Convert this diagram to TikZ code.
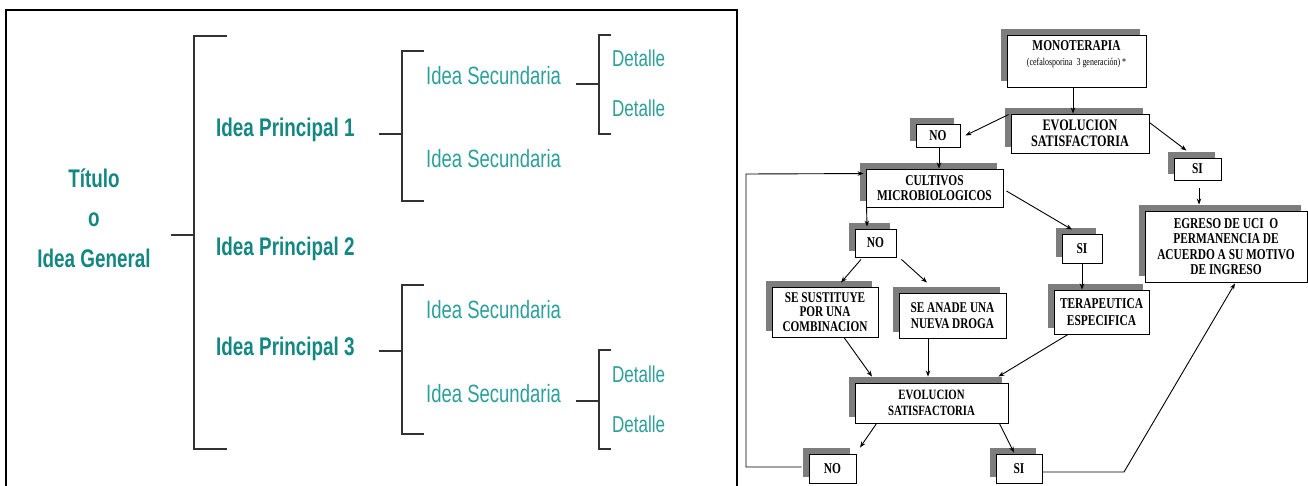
\documentclass[tikz,border=0pt]{standalone}
\usepackage{fontspec}
\usetikzlibrary{shadows,calc,arrows.meta}
\newfontfamily\lsans[FakeStretch=0.74]{Liberation Sans}
\newfontfamily\rserif[FakeStretch=0.76]{Liberation Serif}
\definecolor{tealB}{RGB}{20,135,130}
\definecolor{tealR}{RGB}{45,160,155}
\definecolor{shgray}{RGB}{125,125,125}
\definecolor{brk}{RGB}{50,50,50}
\begin{document}
\begin{tikzpicture}[x=1pt,y=-1pt,
  mainidea/.style={font=\lsans\bfseries\fontsize{25.5}{28}\selectfont, text=tealB, inner sep=0pt},
  secidea/.style={font=\lsans\fontsize{25}{28}\selectfont, text=tealR, inner sep=0pt, anchor=base west},
  detidea/.style={font=\lsans\fontsize{23}{26}\selectfont, text=tealR, inner sep=0pt, anchor=base west},
  brack/.style={draw=brk, line width=1.6pt},
  fbox/.style={draw, fill=white, line width=0.9pt, inner sep=0pt, align=center,
    font=\rserif\bfseries\fontsize{15}{15.5}\selectfont,
    general shadow={fill=shgray, shadow xshift=-6pt, shadow yshift=6pt}},
  arr/.style={draw, line width=0.9pt, -{Stealth[length=6pt,width=4.5pt]}}
]
\useasboundingbox (0,0) rectangle (1308,486);
\fill[white] (0,0) rectangle (1308,486);

% ---------------- left panel ----------------
\draw[line width=1.4pt] (6,496) -- (6,10) -- (737,10) -- (737,496);

\node[mainidea, anchor=base] (tit1) at (94,188) {Título};
\node[mainidea, anchor=base] (tit2) at (94,227) {o};
\node[mainidea, anchor=base] (tit3) at (94,267) {Idea General};

\node[mainidea, anchor=base west] (ip1) at (216,137) {Idea Principal 1};
\node[mainidea, anchor=base west] (ip2) at (216,255) {Idea Principal 2};
\node[mainidea, anchor=base west] (ip3) at (216,355) {Idea Principal 3};

\node[secidea] (is1) at (426,85) {Idea Secundaria};
\node[secidea] (is2) at (426,168) {Idea Secundaria};
\node[secidea] (is3) at (426,318) {Idea Secundaria};
\node[secidea] (is4) at (426,402) {Idea Secundaria};

\node[detidea] (d1) at (612,67) {Detalle};
\node[detidea] (d2) at (612,117) {Detalle};
\node[detidea] (d3) at (612,382) {Detalle};
\node[detidea] (d4) at (612,432) {Detalle};

\coordinate (b0s) at (171,235);
\coordinate (b0m) at (194,235);
\draw[brack] (b0s) -- (b0m);
\draw[brack] (227,36) -- (194,36) -- (194,449) -- (227,449);

\coordinate (b1s) at (379,134);
\coordinate (b1m) at (402,134);
\draw[brack] (b1s) -- (b1m);
\draw[brack] (424,51) -- (402,51) -- (402,201) -- (424,201);

\coordinate (b2s) at (576,84);
\coordinate (b2m) at (599,84);
\draw[brack] (b2s) -- (b2m);
\draw[brack] (611,35) -- (599,35) -- (599,134) -- (611,134);

\coordinate (b3s) at (379,351);
\coordinate (b3m) at (402,351);
\draw[brack] (b3s) -- (b3m);
\draw[brack] (424,285) -- (402,285) -- (402,434) -- (424,434);

\coordinate (b4s) at (576,401);
\coordinate (b4m) at (599,401);
\draw[brack] (b4s) -- (b4m);
\draw[brack] (611,350) -- (599,350) -- (599,449) -- (611,449);

% ---------------- right panel ----------------
\node[fbox, minimum width=139pt, minimum height=52pt] (mono) at (1076.5,61)
  {MONOTERAPIA\\{\mdseries\fontsize{10.5}{15}\selectfont (cefalosporina\ \ 3 generación) *}\\ \mbox{}};
\node[fbox, minimum width=138pt, minimum height=39pt, font=\rserif\bfseries\fontsize{16}{15.5}\selectfont] (evo1) at (1080,133.5)
  {EVOLUCION\\SATISFACTORIA};
\node[fbox, minimum width=44pt, minimum height=23pt] (no1) at (938,135.5) {NO};
\node[fbox, minimum width=47pt, minimum height=22pt] (si1) at (1197.5,169) {SI};
\node[fbox, minimum width=162pt, minimum height=71pt] (egr) at (1226,246.5)
  {EGRESO DE UCI\ \ O\\PERMANENCIA\ DE\\ACUERDO A SU MOTIVO\\DE INGRESO};
\node[fbox, minimum width=137pt, minimum height=38pt, font=\rserif\bfseries\fontsize{15}{15}\selectfont] (cul) at (934.5,188)
  {CULTIVOS\\MICROBIOLOGICOS};
\node[fbox, minimum width=41pt, minimum height=28pt] (no2) at (875.5,243) {NO};
\node[fbox, minimum width=40pt, minimum height=29pt] (si2) at (1082,248.5) {SI};
\node[fbox, minimum width=95pt, minimum height=44pt, font=\rserif\bfseries\fontsize{15}{17}\selectfont] (ter) at (1101.5,312)
  {TERAPEUTICA\\ESPECIFICA};
\node[fbox, minimum width=106pt, minimum height=50pt, font=\rserif\bfseries\fontsize{14.8}{14.8}\selectfont] (sus) at (825,312)
  {SE SUSTITUYE\\POR UNA\\COMBINACION};
\node[fbox, minimum width=107pt, minimum height=45pt, font=\rserif\bfseries\fontsize{14.8}{16.5}\selectfont] (ana) at (952.5,315.5)
  {SE ANADE UNA\\NUEVA DROGA};
\node[fbox, minimum width=153pt, minimum height=40pt, font=\rserif\bfseries\fontsize{14.2}{16}\selectfont] (evo2) at (931.5,403)
  {EVOLUCION\\SATISFACTORIA};
\node[fbox, minimum width=47pt, minimum height=29pt] (no3) at (832.5,468.5) {NO};
\node[fbox, minimum width=46pt, minimum height=29pt] (si3) at (1019,468.5) {SI};

% connectors
\draw[arr] ($(mono.south)+(-3.5,0)$) -- ($(evo1.north)+(-7,0)$);
\draw[arr] ($(evo1.north west)+(-2,1)$) -- ($(no1.east)+(5,0)$);
\draw[arr] ($(evo1.north east)+(0,9)$) -- ($(si1.north)+(-11,-7)$);
\draw[arr] ($(si1.south)+(1.5,8)$) -- ($(egr.north)+(-27,-6)$);
\draw[arr] ($(no1.south)+(1,0)$) -- ($(cul.north)+(4.5,0)$);
\draw[arr] ($(no3.west)+(-7,-1.5)$) -- (746,467) -- (746,174) -- ($(cul.north west)+(-2,5)$);
\draw[arr] ($(cul.south west)+(1,0)$) -- ($(no2.north)+(-8.5,-2)$);
\draw[arr] ($(cul.east)+(3,3)$) -- ($(si2.north)+(-10,-4)$);
\draw[arr] (si2.south) -- ($(ter.north)+(-19.5,0)$);
\draw[arr] ($(no2.south)+(-14.5,2)$) -- ($(sus.north)+(16,-4)$);
\draw[arr] ($(no2.south east)+(5,2)$) -- ($(ana.north)+(-25.5,-10)$);
\draw[arr] ($(sus.south)+(19,0)$) -- ($(evo2.north)+(-59.5,-6)$);
\draw[arr] ($(ana.south)+(-24.5,0)$) -- ($(evo2.north)+(-3.5,-6)$);
\draw[arr] ($(ter.south)+(-33.5,0)$) -- ($(evo2.north east)+(-10,-6)$);
\draw[arr] ($(evo2.south west)+(22,0)$) -- ($(no3.north)+(27.5,-6)$);
\draw[arr] ($(evo2.south east)+(-9,0)$) -- ($(si3.north)+(-5,-1)$);
\draw[arr] ($(si3.east)+(0,3.5)$) -- (1124,472) -- ($(egr.south)+(9,1)$);
\end{tikzpicture}
\end{document}
